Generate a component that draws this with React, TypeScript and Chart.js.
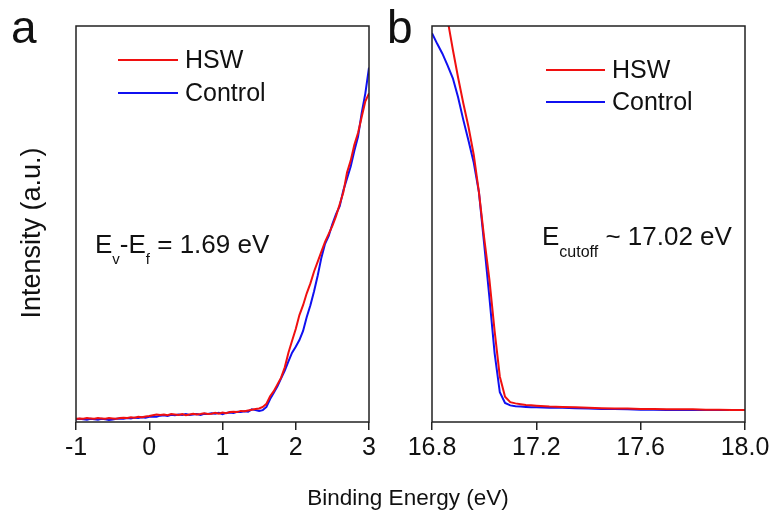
import React, { useEffect, useRef } from "react";
import { Chart, registerables } from "chart.js";

Chart.register(...registerables);

const FONT = '"Liberation Sans", Arial, Helvetica, sans-serif';
const RED = "#f01010";
const BLUE = "#1010f0";
const INK = "#111111";

// ---------- Panel a : valence band region ----------
const aEnergy = [
  -1.0, -0.95, -0.9, -0.85, -0.8, -0.75, -0.7, -0.65, -0.6, -0.55,
  -0.5, -0.45, -0.4, -0.35, -0.3, -0.25, -0.2, -0.15, -0.1, -0.05,
  0.0, 0.05, 0.1, 0.15, 0.2, 0.25, 0.3, 0.35, 0.4, 0.45,
  0.5, 0.55, 0.6, 0.65, 0.7, 0.75, 0.8, 0.85, 0.9, 0.95,
  1.0, 1.05, 1.1, 1.15, 1.2, 1.25, 1.3, 1.35, 1.4, 1.45,
  1.5, 1.55, 1.6, 1.65, 1.7, 1.75, 1.8, 1.85, 1.9, 1.95,
  2.0, 2.05, 2.1, 2.15, 2.2, 2.25, 2.3, 2.35, 2.4, 2.45,
  2.5, 2.55, 2.6, 2.65, 2.7, 2.75, 2.8, 2.85, 2.9, 2.95,
  3.0,
];
const aHSW = [
  0.8, 0.9, 0.8, 1.0, 0.9, 0.8, 1.0, 0.9, 0.8, 1.0,
  0.9, 0.8, 1.0, 1.1, 1.0, 1.2, 1.1, 1.3, 1.2, 1.4,
  1.5, 1.7, 1.9, 1.8, 1.9, 1.7, 2.0, 1.9, 1.8, 2.0,
  1.7, 1.9, 2.1, 1.9, 2.0, 2.2, 2.0, 2.1, 2.3, 2.1,
  2.4, 2.2, 2.5, 2.6, 2.5, 2.8, 2.7, 2.9, 3.1, 3.3,
  3.4, 3.8, 4.6, 6.5, 7.8, 9.5, 11.2, 13.8, 17.5, 20.5,
  23.5, 27.0, 29.5, 32.5, 35.0, 38.0, 40.5, 43.0, 45.5, 47.5,
  49.5, 52.0, 55.0, 58.0, 63.0, 66.0, 70.0, 73.0, 77.0, 81.0,
  83.0,
];
const aControl = [
  0.7, 0.8, 0.7, 0.6, 0.8, 0.7, 0.6, 0.8, 0.7, 0.5,
  0.6, 0.8, 0.9, 0.8, 1.0, 0.9, 1.1, 1.0, 1.2, 1.1,
  1.3, 1.4, 1.3, 1.6, 1.7, 1.5, 1.8, 1.7, 1.9, 1.8,
  2.0, 1.8, 1.9, 2.0, 1.8, 2.1, 2.0, 2.2, 2.1, 2.3,
  2.0, 2.3, 2.4, 2.3, 2.6, 2.5, 2.7, 2.6, 3.2, 3.0,
  2.8, 3.0, 3.8, 5.8, 7.4, 9.0, 11.0, 13.0, 15.3, 17.5,
  19.0, 20.7, 23.0, 26.5, 29.5, 33.0, 37.0, 41.5, 45.0, 47.0,
  50.0, 52.5, 54.5, 58.5, 61.5, 64.5, 68.5, 72.0, 78.0, 83.0,
  89.5,
];
const aTicks = [-1, 0, 1, 2, 3];

// ---------- Panel b : secondary electron cutoff ----------
const bEnergyHSW = [
  16.8, 16.82, 16.84, 16.86, 16.88, 16.9, 16.92, 16.94, 16.96, 16.98,
  17.0, 17.02, 17.04, 17.06, 17.08, 17.1, 17.12, 17.14, 17.16, 17.18,
  17.2, 17.25, 17.3, 17.35, 17.4, 17.45, 17.5, 17.55, 17.6, 17.65,
  17.7, 17.75, 17.8, 17.85, 17.9, 17.95, 18.0,
];
const bHSW = [
  126, 117, 109, 101.5, 94, 87, 80.5, 74.5, 67.5, 58,
  46.5, 36, 23, 11.5, 6.4, 5.0, 4.7, 4.5, 4.3, 4.2,
  4.1, 3.9, 3.8, 3.7, 3.6, 3.5, 3.4, 3.4, 3.3, 3.3,
  3.2, 3.2, 3.2, 3.1, 3.1, 3.0, 3.0,
];
const bEnergyControl = [
  16.8, 16.82, 16.84, 16.86, 16.88, 16.9, 16.92, 16.94, 16.96, 16.98,
  17.0, 17.02, 17.04, 17.06, 17.08, 17.1, 17.12, 17.14, 17.16, 17.18,
  17.2, 17.25, 17.3, 17.35, 17.4, 17.45, 17.5, 17.55, 17.6, 17.65,
  17.7, 17.75, 17.8, 17.85, 17.9, 17.94,
];
const bControl = [
  98.2, 95.5, 93, 90, 86.8, 82, 76.3, 71, 65.5, 58,
  45, 31.5, 17.4, 7.5, 4.8, 4.2, 4.0, 3.9, 3.8, 3.7,
  3.7, 3.6, 3.6, 3.5, 3.4, 3.3, 3.3, 3.2, 3.1, 3.1,
  3.0, 3.0, 3.0, 3.0, 3.0, 3.0,
];
const bTicks = [16.8, 17.2, 17.6, 18.0];

const seriesNames = ["HSW", "Control"];

function pts(xs: number[], ys: number[]) {
  return xs.map((x, i) => ({ x, y: ys[i] }));
}

function drawLegend(ctx: CanvasRenderingContext2D, x0: number, x1: number, tx: number, ys: number[]) {
  const colors = [RED, BLUE];
  ctx.save();
  ctx.lineWidth = 2;
  ctx.font = `25px ${FONT}`;
  ctx.textBaseline = "middle";
  ctx.textAlign = "left";
  ctx.fillStyle = INK;
  seriesNames.forEach((name, i) => {
    ctx.strokeStyle = colors[i];
    ctx.beginPath();
    ctx.moveTo(x0, ys[i]);
    ctx.lineTo(x1, ys[i]);
    ctx.stroke();
    ctx.fillText(name, tx, ys[i] + 1);
  });
  ctx.restore();
}

function drawRich(
  ctx: CanvasRenderingContext2D,
  x: number,
  y: number,
  parts: [string, boolean][],
  size: number,
  subSize: number,
  subDrop: number
) {
  ctx.save();
  ctx.fillStyle = INK;
  ctx.textBaseline = "alphabetic";
  ctx.textAlign = "left";
  let cx = x;
  parts.forEach(([t, sub]) => {
    ctx.font = `${sub ? subSize : size}px ${FONT}`;
    ctx.fillText(t, cx, sub ? y + subDrop : y);
    cx += ctx.measureText(t).width;
  });
  ctx.restore();
}

function framePlugin(id: string, extra: (ctx: CanvasRenderingContext2D) => void) {
  return {
    id,
    afterDraw(chart: any) {
      const ctx = chart.ctx as CanvasRenderingContext2D;
      const { left, top, right, bottom } = chart.chartArea;
      ctx.save();
      ctx.strokeStyle = "#222";
      ctx.lineWidth = 1.5;
      ctx.strokeRect(left, top, right - left, bottom - top);
      ctx.restore();
      extra(ctx);
    },
  };
}

function makeConfig(
  datasets: any[],
  min: number,
  max: number,
  ticks: number[],
  digits: number,
  padding: any,
  plugin: any
) {
  return {
    type: "line",
    data: { datasets },
    options: {
      animation: false,
      responsive: false,
      events: [],
      layout: { padding },
      plugins: { legend: { display: false }, tooltip: { enabled: false } },
      elements: { point: { radius: 0 }, line: { borderWidth: 2, tension: 0 } },
      scales: {
        x: {
          type: "linear",
          min,
          max,
          afterBuildTicks: (scale: any) => {
            scale.ticks = ticks.map((v) => ({ value: v }));
          },
          afterFit: (scale: any) => {
            scale.height = 99;
          },
          ticks: {
            font: { family: FONT, size: 25 },
            color: INK,
            padding: 3,
            maxRotation: 0,
            autoSkip: false,
            callback: (v: any) => Number(v).toFixed(digits),
          },
          grid: {
            display: true,
            drawOnChartArea: false,
            drawTicks: true,
            tickLength: 8,
            color: "#222",
            lineWidth: 1.5,
          },
          border: { display: false },
        },
        y: { type: "linear", display: false, min: 0, max: 100 },
      },
    },
    plugins: [plugin],
  } as any;
}

function ChartCanvas({ config, left, width }: { config: () => any; left: number; width: number }) {
  const ref = useRef<HTMLCanvasElement | null>(null);
  useEffect(() => {
    const chart = new Chart(ref.current as HTMLCanvasElement, config());
    return () => chart.destroy();
  }, []);
  return (
    <canvas
      ref={ref}
      width={width}
      height={521}
      style={{ position: "absolute", left, top: 0, width, height: 521 }}
    />
  );
}

const configA = () =>
  makeConfig(
    [
      { label: seriesNames[0], data: pts(aEnergy, aHSW), borderColor: RED },
      { label: seriesNames[1], data: pts(aEnergy, aControl), borderColor: BLUE },
    ],
    -1,
    3,
    aTicks,
    0,
    { left: 76, top: 26, right: 21, bottom: 0 },
    framePlugin("panelA", (ctx) => {
      drawLegend(ctx, 118, 178, 185, [60, 93]);
      drawRich(
        ctx,
        95,
        253,
        [
          ["E", false],
          ["v", true],
          ["-E", false],
          ["f", true],
          [" = 1.69 eV", false],
        ],
        26,
        15,
        11
      );
      ctx.save();
      ctx.translate(33, 233);
      ctx.rotate(-Math.PI / 2);
      ctx.font = `27px ${FONT}`;
      ctx.fillStyle = INK;
      ctx.textAlign = "center";
      ctx.textBaseline = "middle";
      ctx.fillText("Intensity (a.u.)", 0, 0);
      ctx.restore();
    })
  );

const configB = () =>
  makeConfig(
    [
      { label: seriesNames[0], data: pts(bEnergyHSW, bHSW), borderColor: RED },
      { label: seriesNames[1], data: pts(bEnergyControl, bControl), borderColor: BLUE },
    ],
    16.8,
    18.0,
    bTicks,
    1,
    { left: 32, top: 26, right: 30, bottom: 0 },
    framePlugin("panelB", (ctx) => {
      drawLegend(ctx, 146, 205, 212, [70, 102]);
      drawRich(
        ctx,
        142,
        245,
        [
          ["E", false],
          ["cutoff", true],
          [" ~ 17.02 eV", false],
        ],
        26,
        16,
        12
      );
    })
  );

export default function App() {
  return (
    <div
      style={{
        position: "absolute",
        left: 0,
        top: 0,
        width: 775,
        height: 521,
        background: "#fff",
        overflow: "hidden",
        fontFamily: FONT,
        color: INK,
      }}
    >
      <ChartCanvas config={configA} left={0} width={390} />
      <ChartCanvas config={configB} left={400} width={375} />
      <div style={{ position: "absolute", left: 11, top: 4, fontSize: 46, lineHeight: "46px" }}>a</div>
      <div style={{ position: "absolute", left: 387, top: 4, fontSize: 46, lineHeight: "46px" }}>b</div>
      <div
        style={{
          position: "absolute",
          left: 0,
          width: 816,
          top: 487,
          textAlign: "center",
          fontSize: 22.5,
          lineHeight: "22.5px",
        }}
      >
        Binding Energy (eV)
      </div>
    </div>
  );
}
